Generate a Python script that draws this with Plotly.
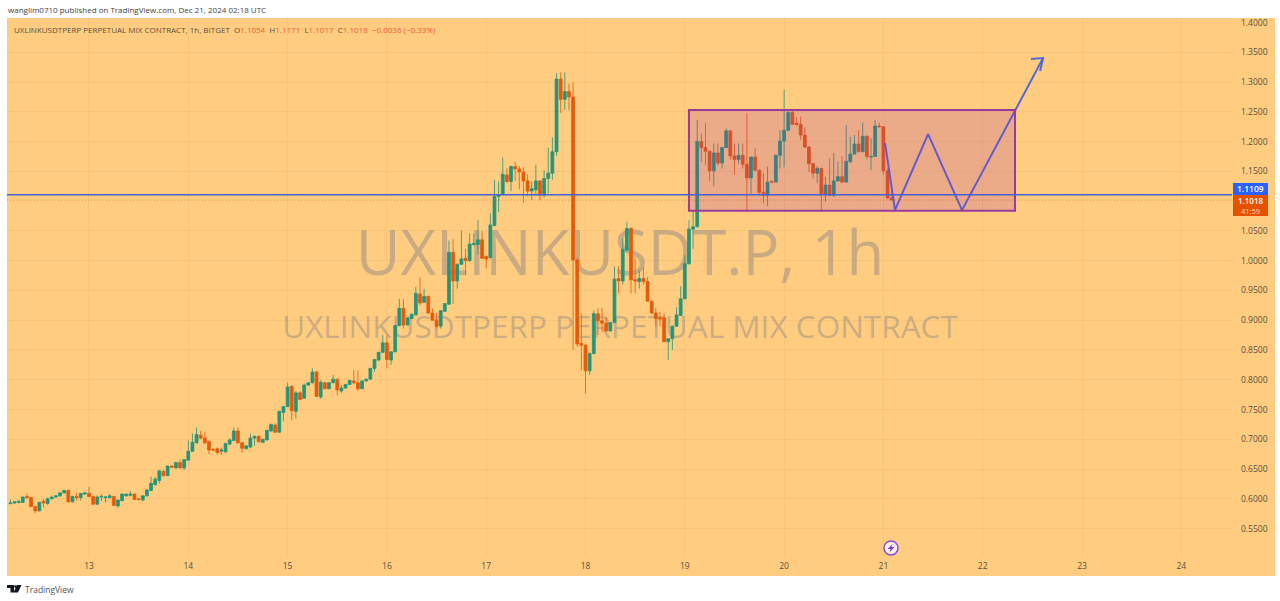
import pandas as pd
import plotly.graph_objects as go

# ---------- data ----------
first_candle = "2024-12-12 05:00"
opens = [
 .592,.593,.594,.594,.604,.602,.587,.580,.596,.592,
 .600,.603,.605,.610,.614,.595,.604,.602,.608,.609,
 .604,.591,.603,.602,.602,.604,.588,.597,.605,.606,
 .608,.600,.598,.605,.614,.624,.631,.646,.639,.655,
 .652,.661,.652,.665,.680,.694,.707,.702,.696,.683,
 .684,.680,.679,.692,.698,.714,.694,.684,.687,.702,
 .705,.695,.699,.714,.724,.712,.745,.755,.789,.747,
 .778,.769,.791,.795,.813,.771,.795,.785,.795,.801,
 .781,.786,.792,.798,.795,.785,.798,.801,.819,.833,
 .846,.862,.833,.847,.891,.920,.892,.903,.909,.944,
 .930,.940,.912,.900,.890,.915,.927,1.014,.966,.994,
 1.004,1.000,1.027,1.027,1.035,1.007,1.005,1.059,1.108,1.111,
 1.144,1.133,1.158,1.154,1.149,1.134,1.117,1.119,1.134,1.110,
 1.138,1.147,1.183,1.305,1.271,1.284,1.275,1.001,.861,.858,
 .815,.844,.911,.899,.895,.882,.896,.970,.966,1.018,
 1.054,.968,.965,.970,.965,.932,.912,.904,.904,.864,
 .869,.890,.908,.936,.995,1.053,1.057,1.200,1.190,1.184,
 1.151,1.181,1.164,1.190,1.218,1.176,1.170,1.177,1.162,1.139,
 1.174,1.152,1.115,1.110,1.133,1.132,1.177,1.201,1.219,1.249,
 1.231,1.229,1.211,1.191,1.163,1.147,1.155,1.111,1.127,1.110,
 1.134,1.141,1.132,1.166,1.179,1.196,1.183,1.209,1.174,1.175,
 1.226,1.225,1.151,1.1054]
highs = [
 .599,.596,.597,.604,.609,.603,.588,.595,.600,.602,
 .604,.606,.611,.615,.616,.605,.610,.610,.611,.620,
 .605,.606,.608,.605,.608,.605,.599,.609,.609,.613,
 .609,.601,.606,.616,.637,.637,.648,.649,.656,.656,
 .662,.666,.667,.698,.710,.720,.714,.712,.698,.685,
 .686,.686,.694,.702,.720,.720,.695,.690,.710,.706,
 .706,.701,.716,.726,.727,.748,.756,.795,.791,.781,
 .781,.794,.796,.819,.815,.799,.796,.796,.808,.802,
 .791,.793,.800,.816,.816,.799,.802,.820,.835,.847,
 .875,.875,.848,.892,.936,.936,.905,.911,.956,.972,
 .953,.941,.920,.912,.917,.929,1.034,1.036,.995,1.051,
 1.020,1.046,1.046,1.068,1.050,1.009,1.080,1.136,1.133,1.173,
 1.155,1.160,1.166,1.159,1.157,1.145,1.133,1.161,1.135,1.152,
 1.190,1.207,1.315,1.316,1.316,1.297,1.300,1.005,.911,.860,
 .846,.917,.920,.921,.906,.897,.990,.991,1.037,1.065,
 1.056,1.004,.984,.990,.973,.933,.921,.914,.911,.870,
 .891,.922,.957,1.009,1.068,1.085,1.236,1.214,1.231,1.185,
 1.197,1.197,1.191,1.222,1.219,1.197,1.197,1.197,1.248,1.175,
 1.189,1.153,1.147,1.158,1.135,1.178,1.219,1.287,1.252,1.252,
 1.241,1.242,1.224,1.192,1.164,1.159,1.156,1.141,1.172,1.181,
 1.166,1.175,1.228,1.208,1.211,1.219,1.232,1.210,1.206,1.236,
 1.232,1.226,1.155,1.1171]
lows = [
 .591,.592,.592,.593,.600,.587,.576,.579,.586,.590,
 .599,.602,.604,.609,.594,.594,.597,.597,.607,.603,
 .590,.590,.596,.594,.601,.588,.585,.596,.604,.604,
 .598,.597,.596,.604,.613,.622,.626,.637,.638,.652,
 .651,.651,.648,.664,.679,.693,.700,.692,.675,.680,
 .674,.674,.677,.690,.697,.693,.677,.683,.685,.689,
 .695,.693,.698,.713,.711,.711,.730,.754,.732,.735,
 .767,.768,.790,.794,.771,.768,.784,.784,.794,.774,
 .778,.785,.791,.793,.781,.784,.797,.800,.813,.832,
 .845,.819,.825,.846,.890,.886,.891,.902,.908,.925,
 .929,.911,.899,.886,.886,.914,.926,.927,.953,.993,
 .976,.998,1.026,1.010,1.003,.987,1.004,1.058,1.082,1.110,
 1.130,1.117,1.134,1.120,1.097,1.108,1.102,1.110,1.102,1.106,
 1.113,1.136,1.176,1.248,1.253,1.253,.850,.855,.816,.777,
 .808,.843,.875,.880,.880,.881,.895,.945,.960,1.015,
 .945,.945,.953,.960,.931,.911,.889,.890,.863,.833,
 .850,.889,.907,.935,.993,1.020,1.056,1.166,1.160,1.133,
 1.125,1.160,1.155,1.189,1.170,1.144,1.163,1.155,1.082,1.110,
 1.150,1.110,1.096,1.092,1.130,1.131,1.155,1.157,1.218,1.228,
 1.226,1.203,1.190,1.149,1.138,1.130,1.082,1.099,1.108,1.107,
 1.133,1.130,1.131,1.165,1.178,1.182,1.182,1.170,1.152,1.174,
 1.224,1.145,1.104,1.1017]
closes = [
 .593,.595,.596,.603,.602,.587,.580,.594,.593,.600,
 .603,.605,.610,.614,.595,.604,.602,.609,.610,.604,
 .591,.603,.604,.603,.605,.589,.598,.608,.608,.608,
 .599,.599,.605,.615,.626,.633,.647,.639,.655,.653,
 .661,.652,.666,.680,.695,.708,.702,.694,.682,.682,
 .678,.682,.693,.699,.714,.694,.685,.689,.702,.705,
 .696,.700,.715,.725,.712,.747,.755,.788,.748,.778,
 .767,.791,.795,.813,.772,.796,.785,.795,.801,.783,
 .786,.792,.799,.795,.785,.798,.801,.819,.834,.846,
 .862,.834,.847,.891,.920,.892,.904,.910,.945,.929,
 .940,.912,.900,.890,.916,.928,1.014,.966,.994,1.003,
 1.000,1.028,1.029,1.035,1.004,1.003,1.060,1.108,1.111,1.145,
 1.133,1.158,1.154,1.149,1.134,1.117,1.121,1.134,1.110,1.138,
 1.147,1.183,1.305,1.271,1.284,1.275,1.001,.860,.858,.815,
 .844,.911,.899,.895,.882,.896,.969,.966,1.019,1.054,
 .968,.966,.970,.965,.932,.912,.903,.902,.864,.869,
 .890,.909,.936,.995,1.053,1.057,1.200,1.190,1.184,1.151,
 1.181,1.164,1.190,1.218,1.176,1.170,1.177,1.162,1.139,1.174,
 1.152,1.115,1.110,1.132,1.132,1.177,1.201,1.219,1.249,1.229,
 1.229,1.211,1.191,1.163,1.147,1.155,1.111,1.127,1.110,1.134,
 1.141,1.132,1.167,1.179,1.196,1.183,1.209,1.175,1.175,1.226,
 1.225,1.151,1.1054,1.1018]

level_price = 1.1109
last_price = 1.1018
countdown = "41:59"
change_text = "−0.0036 (−0.33%)"

# 1.1000 is hidden behind the price tags in the reference
price_ticks = [0.55, 0.60, 0.65, 0.70, 0.75, 0.80, 0.85, 0.90, 0.95, 1.00, 1.05,
               1.15, 1.20, 1.25, 1.30, 1.35, 1.40]

box_dates = ["2024-12-19 01:00", "2024-12-22 07:48"]
box_prices = [1.0840, 1.2529]
path_dates = ["2024-12-21 00:24", "2024-12-21 02:48", "2024-12-21 10:48",
              "2024-12-21 19:00", "2024-12-22 14:36"]
path_prices = [1.1975, 1.0849, 1.2126, 1.0849, 1.3403]
head_dates = ["2024-12-22 11:40", "2024-12-22 14:36", "2024-12-22 13:52"]
head_prices = [1.3387, 1.3403, 1.3185]

x_range = ["2024-12-12 04:11", "2024-12-24 12:15"]
y_range = [0.5040, 1.4076]

title_main = "UXLINKUSDT.P, 1h"
title_sub = "UXLINKUSDTPERP PERPETUAL MIX CONTRACT"
title_line = "UXLINKUSDTPERP PERPETUAL MIX CONTRACT, 1h, BITGET"
published = "wanglim0710 published on TradingView.com, Dec 21, 2024 02:18 UTC"

# ---------- styles ----------
W, H = 1280, 601
L, R, T, B = 7, 1232, 18, 556
FONT = "Open Sans"
PEACH = "#FFCC80"
GREEN = "#22967A"
ORANGE = "#E65A0A"
BLUE = "#4A5FD0"
WATER = "rgba(120,123,134,0.40)"
GRID = "#F8C47A"
TXT = "#5A5040"

def px(x):
    return (x - L) / (R - L)

def py(y):
    return (B - y) / (B - T)

times = pd.date_range(first_candle, periods=len(closes), freq="h")

fig = go.Figure()

# watermark on the base axis, so candles on the overlay axis sit on top of it
fig.add_trace(go.Scatter(
    x=["2024-12-18 08:20", "2024-12-18 08:20"], y=[1.0025, 0.8832],
    mode="text", text=[title_main, title_sub],
    textposition="middle center",
    textfont=dict(family=FONT, color=WATER, size=[61.5, 31.5]),
    hoverinfo="skip", showlegend=False, cliponaxis=False,
))

fig.add_trace(go.Candlestick(
    x=times, open=opens, high=highs, low=lows, close=closes,
    xaxis="x", yaxis="y2",
    increasing=dict(line=dict(color="rgba(34,150,122,0.8)", width=1), fillcolor=GREEN),
    decreasing=dict(line=dict(color="rgba(230,90,10,0.8)", width=1), fillcolor=ORANGE),
    whiskerwidth=0, hoverinfo="skip", showlegend=False,
))

fig.add_trace(go.Scatter(
    x=path_dates, y=path_prices, mode="lines", xaxis="x", yaxis="y2",
    line=dict(color="#5468D8", width=2), hoverinfo="skip", showlegend=False,
))
fig.add_trace(go.Scatter(
    x=head_dates, y=head_prices, mode="lines", xaxis="x", yaxis="y2",
    line=dict(color="#5468D8", width=2), hoverinfo="skip", showlegend=False,
))

shapes = [
    # background panel, including price and time scale strips
    dict(type="rect", xref="paper", yref="paper", layer="below",
         x0=0, x1=px(1275), y0=py(576), y1=1,
         fillcolor=PEACH, line=dict(width=0)),
    # trading range box
    dict(type="rect", xref="x", yref="y2", layer="above",
         x0=box_dates[0], x1=box_dates[1], y0=box_prices[0], y1=box_prices[1],
         fillcolor="rgba(156,39,176,0.20)", line=dict(color="#9A3A9A", width=2)),
    # level + last price lines
    dict(type="line", xref="paper", yref="y2", layer="above", x0=0, x1=1,
         y0=level_price, y1=level_price, line=dict(color=BLUE, width=1.5)),
    dict(type="line", xref="paper", yref="y2", layer="above", x0=0, x1=1,
         y0=last_price, y1=last_price,
         line=dict(color="rgba(230,90,10,0.6)", width=1, dash="1px,2px")),
    # price tags
    dict(type="rect", xref="paper", yref="paper", layer="above",
         x0=px(1233), x1=px(1268), y0=py(195), y1=py(183),
         fillcolor="#2962FF", line=dict(width=0)),
    dict(type="rect", xref="paper", yref="paper", layer="above",
         x0=px(1233), x1=px(1268), y0=py(216), y1=py(195),
         fillcolor="#E65100", line=dict(width=0)),
    # event icon
    dict(type="circle", xref="paper", yref="paper", layer="above",
         x0=px(884), x1=px(898), y0=py(555), y1=py(541),
         fillcolor="#F7EFE8", line=dict(color="#8A4FD0", width=1.5)),
    dict(type="path", xref="paper", yref="paper", layer="above",
         path="M {} {} L {} {} L {} {} L {} {} L {} {} L {} {} Z".format(
             px(892.5), py(544), px(887.5), py(549), px(890.5), py(549),
             px(889.5), py(552.5), px(894.5), py(547), px(891.5), py(547)),
         fillcolor="#7E3FC8", line=dict(width=0)),
    # TradingView logo mark
    dict(type="path", xref="paper", yref="paper", layer="above",
         path="M {} {} L {} {} L {} {} L {} {} L {} {} L {} {} Z".format(
             px(7), py(585), px(14), py(585), px(14), py(592.5),
             px(10.5), py(592.5), px(10.5), py(588), px(7), py(588)),
         fillcolor="#131722", line=dict(width=0)),
    dict(type="path", xref="paper", yref="paper", layer="above",
         path="M {} {} L {} {} L {} {} L {} {} Z".format(
             px(17), py(585), px(21.5), py(585), px(18), py(592.5), px(13.5), py(592.5)),
         fillcolor="#131722", line=dict(width=0)),
    dict(type="circle", xref="paper", yref="paper", layer="above",
         x0=px(14.2), x1=px(16.8), y0=py(588), y1=py(585.2),
         fillcolor="#131722", line=dict(width=0)),
]

def note(x, y, text, size=8.5, color=TXT, anchor="left", weight=None):
    return dict(xref="paper", yref="paper", x=px(x), y=py(y), text=text,
                showarrow=False, xanchor=anchor, yanchor="middle",
                font=dict(family=FONT, size=size, color=color, weight=weight),
                bgcolor="rgba(0,0,0,0)", borderpad=0)

red = "#EF5A3C"
ohlc = (f"O<span style='color:{red}'>{opens[-1]:.4f}</span>  "
        f"H<span style='color:{red}'>{highs[-1]:.4f}</span>  "
        f"L<span style='color:{red}'>{lows[-1]:.4f}</span>  "
        f"C<span style='color:{red}'>{closes[-1]:.4f}</span>  "
        f"<span style='color:{red}'>{change_text}</span>")

annotations = [
    note(7, 10, published, 8, "#444444"),
    note(13, 29, title_line + "  " + ohlc, 8, "#5A5040"),
    note(24, 589, "TradingView", 8.5, "#555555"),
    note(1250.5, 189, f"{level_price:.4f}", 8.5, "#FFFFFF", "center", 600),
    note(1250.5, 200, f"{last_price:.4f}", 8, "#FFFFFF", "center", 600),
    note(1250.5, 211, countdown, 7.5, "#FBD9C0", "center"),
]

fig.update_layout(
    width=W, height=H, autosize=False,
    margin=dict(l=L, r=W - R, t=T, b=H - B, pad=0),
    paper_bgcolor="#FFFFFF", plot_bgcolor="rgba(0,0,0,0)",
    shapes=shapes, annotations=annotations,
    showlegend=False, hovermode=False, boxgap=0.02,
    xaxis=dict(
        type="date", range=x_range, rangeslider=dict(visible=False),
        tick0="2024-12-13", dtick=86400000, tickformat="%-d",
        showgrid=True, gridcolor=GRID, gridwidth=1, zeroline=False, showline=False,
        ticks="", tickfont=dict(family=FONT, size=8.5, color=TXT), ticklabelstandoff=3,
    ),
    yaxis=dict(
        range=y_range, side="right", tickmode="array", tickvals=price_ticks, tickformat=".4f",
        showgrid=True, gridcolor=GRID, gridwidth=1, zeroline=False, showline=False,
        ticks="", tickfont=dict(family=FONT, size=8.5, color=TXT), ticklabelstandoff=8,
    ),
    yaxis2=dict(
        range=y_range, overlaying="y", side="right", visible=False,
        showgrid=False, zeroline=False,
    ),
)

fig.write_html(
    "out.html",
    config=dict(displayModeBar=False),
    post_script="document.body.style.margin='0';document.body.style.overflow='hidden';",
)
